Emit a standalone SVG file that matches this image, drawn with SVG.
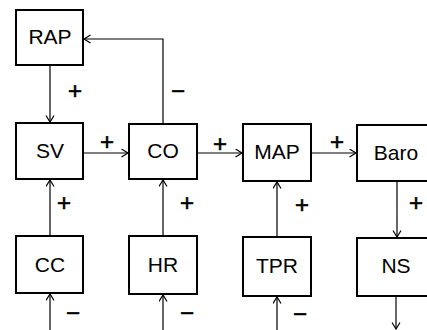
<svg xmlns="http://www.w3.org/2000/svg" width="427" height="330" viewBox="0 0 427 330">
<defs>
<marker id="arr" markerUnits="userSpaceOnUse" markerWidth="10" markerHeight="10" refX="7" refY="4.5" orient="auto">
<path d="M0.5,0.5 L7,4.5 L0.5,8.5" fill="none" stroke="#000" stroke-width="1.2"/>
</marker>
<style>
.box{fill:#fff;stroke:#000;stroke-width:2}
.lbl{font-family:"Liberation Sans",Arial,sans-serif;font-size:21px;text-anchor:middle;fill:#000}
.sg{font-family:"Liberation Sans",Arial,sans-serif;font-size:24px;text-anchor:middle;fill:#000;stroke:#000;stroke-width:0.6}
.c{fill:none;stroke:#000;stroke-width:1.2;marker-end:url(#arr)}
</style>
</defs>
<rect width="427" height="330" fill="#fff"/>
<g id="connectors">
<path class="c" d="M50,65 V122"/>
<path class="c" d="M163,124 V39 H84"/>
<path class="c" d="M83,153 H128"/>
<path class="c" d="M197,153 H242"/>
<path class="c" d="M311,153 H356"/>
<path class="c" d="M50,236 V180"/>
<path class="c" d="M163,236 V180"/>
<path class="c" d="M277,237 V182"/>
<path class="c" d="M397,181 V237"/>
<path class="c" d="M50,330 V294"/>
<path class="c" d="M163,330 V295"/>
<path class="c" d="M277,330 V297"/>
<path class="c" d="M396,296 V329"/>
<text class="sg" x="75" y="99">+</text>
<text class="sg" x="178" y="99">−</text>
<text class="sg" x="107" y="150">+</text>
<text class="sg" x="220" y="152">+</text>
<text class="sg" x="337" y="150">+</text>
<text class="sg" x="64" y="211">+</text>
<text class="sg" x="187" y="211">+</text>
<text class="sg" x="302" y="213">+</text>
<text class="sg" x="416" y="211">+</text>
<text class="sg" x="73" y="321">−</text>
<text class="sg" x="187" y="321">−</text>
<text class="sg" x="300" y="322">−</text>
</g>
<g id="RAP"><rect class="box" x="16" y="10" width="67" height="55"/><text class="lbl" x="50" y="44">RAP</text></g>
<g id="SV"><rect class="box" x="16" y="123" width="67" height="56"/><text class="lbl" x="50" y="158">SV</text></g>
<g id="CO"><rect class="box" x="129" y="124" width="68" height="55"/><text class="lbl" x="163" y="158">CO</text></g>
<g id="MAP"><rect class="box" x="243" y="124" width="68" height="57"/><text class="lbl" x="277" y="159">MAP</text></g>
<g id="Baro"><rect class="box" x="357" y="125" width="80" height="56"/><text class="lbl" x="396" y="160">Baro</text></g>
<g id="CC"><rect class="box" x="16" y="236" width="67" height="57"/><text class="lbl" x="50" y="272">CC</text></g>
<g id="HR"><rect class="box" x="129" y="236" width="68" height="58"/><text class="lbl" x="163" y="272">HR</text></g>
<g id="TPR"><rect class="box" x="243" y="237" width="68" height="59"/><text class="lbl" x="277" y="273">TPR</text></g>
<g id="NS"><rect class="box" x="357" y="238" width="80" height="58"/><text class="lbl" x="396" y="273">NS</text></g>
</svg>
